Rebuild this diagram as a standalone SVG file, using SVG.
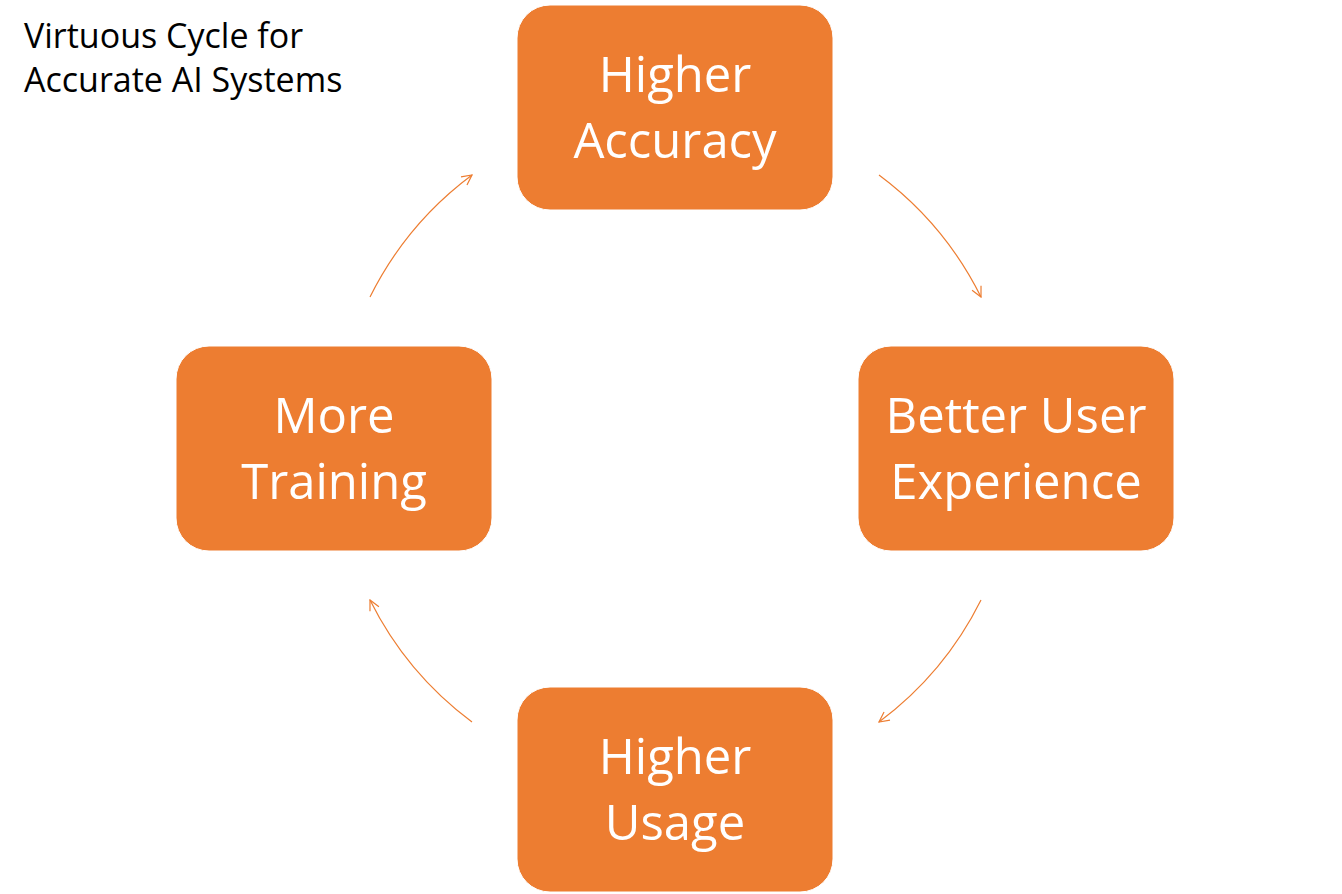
<svg xmlns="http://www.w3.org/2000/svg" width="1342" height="894" viewBox="0 0 1342 894">
<style>
.box{fill:#ED7D31;stroke:#ffffff;stroke-width:1}
.lbl{font-family:"Open Sans","Liberation Sans",sans-serif;font-size:49px;fill:#ffffff;text-anchor:middle}
.title{font-family:"Open Sans","Liberation Sans",sans-serif;font-size:34px;fill:#000000}
.arc{fill:none;stroke:#ED7D31;stroke-width:1.2;marker-end:url(#ah)}
</style>
<defs>
<marker id="ah" viewBox="0 0 12 12" refX="11" refY="6" markerWidth="12" markerHeight="12" markerUnits="userSpaceOnUse" orient="auto">
<path d="M1,1 L11,6 L1,11" fill="none" stroke="#ED7D31" stroke-width="1.2"/>
</marker>
</defs>
<rect width="1342" height="894" fill="#ffffff"/>
<g id="title">
<text class="title" x="24" y="48">Virtuous Cycle for</text>
<text class="title" x="24" y="92">Accurate AI Systems</text>
</g>
<g id="connectors">
<path class="arc" d="M879,175 A342,342 0 0 1 981,297"/>
<path class="arc" d="M981,600 A342,342 0 0 1 879,722"/>
<path class="arc" d="M472,722 A342,342 0 0 1 370,600"/>
<path class="arc" d="M370,297 A342,342 0 0 1 472,175"/>
</g>
<g id="node-accuracy">
<rect class="box" x="517" y="5" width="316" height="205" rx="33"/>
<text class="lbl" x="675" y="92">Higher</text>
<text class="lbl" x="675" y="158">Accuracy</text>
</g>
<g id="node-ux">
<rect class="box" x="858" y="346" width="316" height="205" rx="33"/>
<text class="lbl" x="1016" y="433">Better User</text>
<text class="lbl" x="1016" y="499">Experience</text>
</g>
<g id="node-usage">
<rect class="box" x="517" y="687" width="316" height="205" rx="33"/>
<text class="lbl" x="675" y="774">Higher</text>
<text class="lbl" x="675" y="840">Usage</text>
</g>
<g id="node-training">
<rect class="box" x="176" y="346" width="316" height="205" rx="33"/>
<text class="lbl" x="334" y="433">More</text>
<text class="lbl" x="334" y="499">Training</text>
</g>
</svg>
